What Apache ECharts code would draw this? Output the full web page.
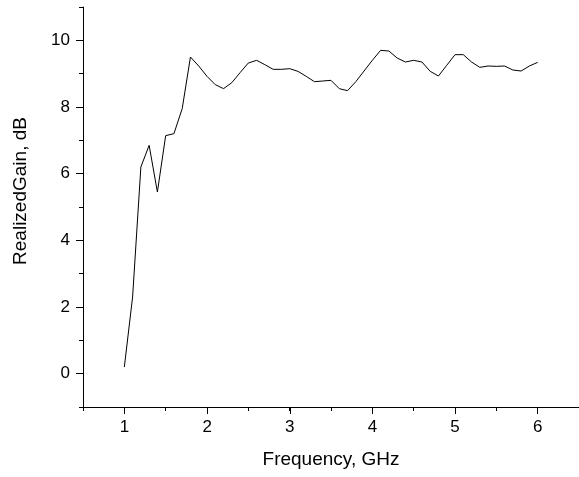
<!DOCTYPE html>
<html><head><meta charset="utf-8">
<script src="https://cdn.jsdelivr.net/npm/echarts@6/dist/echarts.min.js"></script>
<style>html,body{margin:0;padding:0;background:#fff}#c{width:579px;height:477px}</style>
</head><body><div id="c"></div>
<script>
const freq = [1.0,1.1,1.2,1.3,1.4,1.5,1.6,1.7,1.8,1.9,2.0,2.1,2.2,2.3,2.4,2.5,2.6,2.7,2.8,2.9,3.0,3.1,3.2,3.3,3.4,3.5,3.6,3.7,3.8,3.9,4.0,4.1,4.2,4.3,4.4,4.5,4.6,4.7,4.8,4.9,5.0,5.1,5.2,5.3,5.4,5.5,5.6,5.7,5.8,5.9,6.0];
const gain = [0.2,2.3,6.2,6.85,5.45,7.14,7.2,7.95,9.5,9.23,8.92,8.67,8.55,8.73,9.03,9.32,9.4,9.27,9.13,9.13,9.15,9.07,8.92,8.76,8.78,8.8,8.55,8.49,8.76,9.08,9.4,9.7,9.68,9.47,9.35,9.4,9.35,9.07,8.93,9.25,9.57,9.57,9.35,9.19,9.23,9.22,9.23,9.11,9.08,9.23,9.34];
const xTickStart = 1, xTickStep = 1;
const yTickStart = 0, yTickStep = 2;
const xName = 'Frequency, GHz';
const yName = 'RealizedGain, dB';

const font = 'Liberation Sans, Arial, sans-serif';
const chart = echarts.init(document.getElementById('c'), null, {renderer:'canvas'});
const black = {color:'#000', width:1};
const clear = {color:'rgba(0,0,0,0)', width:1};
const G = {left:83, top:7, bottom:70, right:-2};
const xMin = 0.5, xMax = 6.5, yMin = -1, yMax = 11;
const H = 477 - G.top - G.bottom, W = 579 - G.left - G.right;
const pxX = W / (xMax - xMin), pxY = H / (yMax - yMin);
chart.setOption({
  animation:false,
  grid:[
    {left:G.left, top:G.top, bottom:G.bottom, right:G.right},
    {left:G.left + (xTickStart - xMin) * pxX, top:G.top, bottom:G.bottom + (yTickStart - yMin) * pxY, right:G.right}
  ],
  xAxis:[{
    gridIndex:0, type:'value', min:xMin, max:xMax, interval:0.5, position:'bottom',
    axisLine:{show:true, onZero:false, lineStyle:black},
    axisTick:{show:true, inside:false, length:4, lineStyle:black},
    axisLabel:{show:false}, splitLine:{show:false},
    name:xName, nameLocation:'middle', nameGap:43,
    nameTextStyle:{color:'#000', fontSize:19, fontFamily:font}
  },{
    gridIndex:1, type:'value', min:xTickStart, max:xMax, interval:xTickStep, position:'bottom',
    offset:(yTickStart - yMin) * pxY,
    axisLine:{show:true, onZero:false, lineStyle:clear},
    axisTick:{show:true, inside:false, length:7, lineStyle:black},
    axisLabel:{show:true, color:'#000', fontSize:17, fontFamily:font, margin:12, showMaxLabel:false},
    splitLine:{show:false}
  }],
  yAxis:[{
    gridIndex:0, type:'value', min:yMin, max:yMax, interval:1, position:'left',
    axisLine:{show:true, onZero:false, lineStyle:black},
    axisTick:{show:true, inside:false, length:4, lineStyle:black},
    axisLabel:{show:false}, splitLine:{show:false}
  },{
    gridIndex:1, type:'value', min:yTickStart, max:yMax, interval:yTickStep, position:'left',
    offset:(xTickStart - xMin) * pxX,
    axisLine:{show:true, onZero:false, lineStyle:clear},
    axisTick:{show:true, inside:false, length:7, lineStyle:black},
    axisLabel:{show:true, color:'#000', fontSize:17, fontFamily:font, margin:13, showMaxLabel:false},
    splitLine:{show:false}
  }],
  graphic:[{
    type:'text', x:21, y:191, rotation:Math.PI/2,
    style:{text:yName, fill:'#000', font:'19px ' + font, textAlign:'center', textVerticalAlign:'middle'}
  }],
  series:[{
    type:'line', xAxisIndex:0, yAxisIndex:0,
    data: freq.map((f,i)=>[f, gain[i]]),
    showSymbol:false, symbol:'none',
    lineStyle:{color:'#000', width:1}
  }]
});
</script></body></html>
